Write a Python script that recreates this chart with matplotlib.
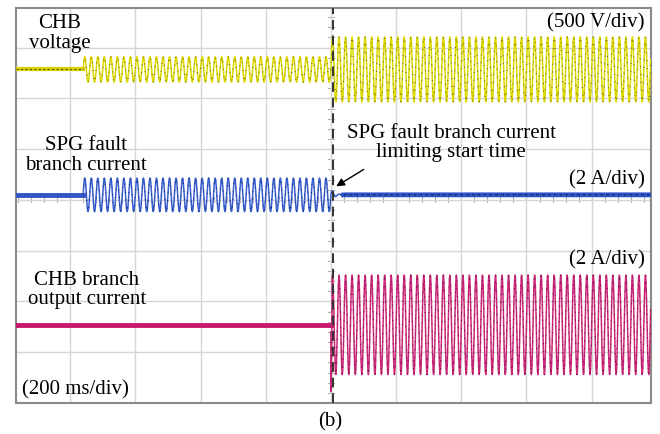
import numpy as np
import matplotlib
matplotlib.use("Agg")
import matplotlib.pyplot as plt

# time base: ms, grid every 200 ms; vertical unit: scope divisions
T_VIEW = [34, 1982]
Y_VIEW = [-4.0, 3.78]
FAULT_T = 240        # SPG fault starts
LIMIT_T = 1000       # current limiting starts (dashed line)
FREQ_HZ = 50

# CHB voltage: offset, amplitude before fault, after fault, after limiting
v_offset = 2.57
v_amp = [0.0, 0.25, 0.64]
# SPG fault branch current
i_spg_offset = 0.1
i_spg_amp = [0.0, 0.33, 0.0]
# CHB branch output current
i_chb_offset = -2.46
i_chb_amp = [0.0, 0.0, 0.98]

labels = {
    "volt": "CHB\nvoltage",
    "spg": "SPG fault\nbranch current",
    "note": "SPG fault branch current\nlimiting start time",
    "chb": "CHB branch\noutput current",
}

plt.rcParams['font.family'] = ['Liberation Serif', 'DejaVu Serif']

t = np.arange(T_VIEW[0], T_VIEW[1], 1.0)


def trace(offset, amps):
    a = np.where(t < FAULT_T, amps[0], np.where(t < LIMIT_T, amps[1], amps[2]))
    return offset + a * np.sin(2 * np.pi * FREQ_HZ * t / 1000.0)


v = trace(v_offset, v_amp)
i_spg = trace(i_spg_offset, i_spg_amp)
i_chb = trace(i_chb_offset, i_chb_amp)
# transients at the limiting instant
i_chb[(t >= LIMIT_T) & (t < LIMIT_T + 4)] = [-2.6, -3.78, -3.2, -2.2]
tr = (t >= LIMIT_T) & (t < LIMIT_T + 40)
i_spg[tr] += 0.12 * np.exp(-(t[tr] - LIMIT_T) / 12) * np.sin(2 * np.pi * FREQ_HZ * t[tr] / 1000.0)

fig = plt.figure(figsize=(6.6, 4.34), dpi=100)
ax = fig.add_axes([16 / 660, 1 - 403 / 434, 635 / 660, 395 / 434])
ax.set_xlim(T_VIEW)
ax.set_ylim(Y_VIEW)
ax.set_xticks(np.arange(200, 1801, 200))
ax.set_yticks(np.arange(-3, 4, 1))
ax.grid(True, color='#d6d6d6', lw=1.0)
ax.tick_params(length=0, labelbottom=False, labelleft=False)
for s in ax.spines.values():
    s.set_color('#8a8a8a')
    s.set_linewidth(1.5)

# small ticks on the scope centre axes
for yy in np.arange(-4, 3.8, 0.2):
    ax.plot([LIMIT_T - 8, LIMIT_T + 8], [yy, yy], color='#b0b0b0', lw=0.8, zorder=1)
for xx in np.arange(40, 1980, 40):
    ax.plot([xx, xx], [-0.05, 0.05], color='#b0b0b0', lw=0.8, zorder=1)

pre = t < FAULT_T
ax.plot(t[pre], v[pre], color='#d8d400', lw=3, zorder=3)
ax.plot(t[pre], v[pre], color='#555500', lw=0.8, ls=(0, (2, 2)), zorder=3)
ax.plot(t[~pre], v[~pre], color='#dcd800', lw=1.1, zorder=3)
ax.plot(t[~pre], v[~pre], color='#5a5a10', lw=0.7, ls=(0, (1, 7)), zorder=3)

ax.plot(t[pre], i_spg[pre], color='#2f55c8', lw=3.5, zorder=3)
mid = (t >= FAULT_T) & (t < LIMIT_T + 40)
ax.plot(t[mid], i_spg[mid], color='#3a60d0', lw=1.1, zorder=3)
ax.plot(t[mid], i_spg[mid], color='#10205a', lw=0.7, ls=(0, (1, 7)), zorder=3)
post = t >= LIMIT_T + 39
ax.plot(t[post], i_spg[post], color='#2f55c8', lw=3.5, zorder=3)
ax.plot(t[post], i_spg[post], color='#10205a', lw=0.7, ls=(0, (3, 3)), zorder=3)

pre2 = t < LIMIT_T
ax.plot(t[pre2], i_chb[pre2], color='#c8186e', lw=3.5, zorder=3)
ax.plot(t[~pre2], i_chb[~pre2], color='#cc2a7a', lw=1.1, zorder=3)
ax.plot(t[~pre2], i_chb[~pre2], color='#5a0a30', lw=0.7, ls=(0, (1, 7)), zorder=3)

ax.axvline(LIMIT_T + 6, color='#333333', lw=1.4, ls=(0, (5, 3)), zorder=4)

fs = 15
ax.text(169, 3.28, labels["volt"], ha='center', va='center', fontsize=fs, zorder=5, linespacing=1.05)
ax.text(1963, 3.48, "(500 V/div)", ha='right', va='center', fontsize=fs, zorder=5)
ax.text(249, 0.88, labels["spg"], ha='center', va='center', fontsize=fs, zorder=5, linespacing=1.05)
ax.text(1369, 1.12, labels["note"], ha='center', va='center', fontsize=fs, zorder=5, linespacing=1.0)
ax.text(1963, 0.39, "(2 A/div)", ha='right', va='center', fontsize=fs, zorder=5)
ax.text(1963, -1.18, "(2 A/div)", ha='right', va='center', fontsize=fs, zorder=5)
ax.text(251, -1.77, labels["chb"], ha='center', va='center', fontsize=fs, zorder=5, linespacing=1.0)
ax.text(52, -3.74, "(200 ms/div)", ha='left', va='center', fontsize=fs, zorder=5)
ax.annotate('', xy=(1009, 0.24), xytext=(1108, 0.63),
            arrowprops=dict(arrowstyle='-|>', color='black', lw=1.0, mutation_scale=12), zorder=5)

fig.text(0.5, 1 - 422 / 434, "(b)", ha='center', va='center', fontsize=fs)

fig.savefig("out.png", dpi=100)
